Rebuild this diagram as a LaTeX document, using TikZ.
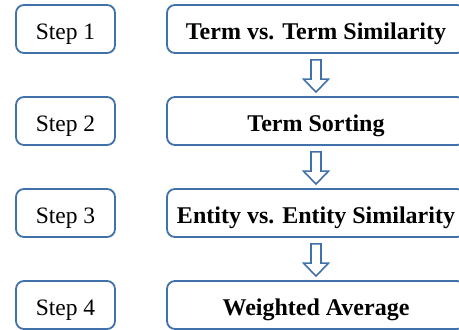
\documentclass[tikz,border=0pt]{standalone}
\usepackage{fontspec}
\setmainfont{Liberation Serif}
\usetikzlibrary{calc}
\definecolor{edge}{RGB}{65,113,170}
\tikzset{
  box/.style={draw=edge, line width=1.8pt, rounded corners=8pt, fill=white,
    minimum height=48pt, inner sep=0pt, text height=21pt, text depth=0pt},
  stepbox/.style={box, minimum width=99pt, font=\fontsize{23.5}{26}\selectfont},
  taskbox/.style={box, minimum width=298pt, font=\fontsize{24}{26}\selectfont\bfseries},
  flow/.style={draw=edge, line width=1.6pt, fill=white, line join=miter}
}
% y grows downwards in this picture
\newcommand{\downarrowshape}[2]{%
  % block arrow from the bottom of #1 to the top of #2
  \draw[flow] ($(#1.south)+(-5,6)$) -- ($(#1.south)+(5,6)$) -- ($(#2.north)+(5,-17)$)
    -- ($(#2.north)+(12.5,-17)$) -- ($(#2.north)+(0,-4)$) -- ($(#2.north)+(-12.5,-17)$)
    -- ($(#2.north)+(-5,-17)$) -- cycle;}
\begin{document}
\begin{tikzpicture}[x=1pt,y=-1pt]
\clip (0,0) rectangle (459,330);
\useasboundingbox (0,0) rectangle (459,330);
\foreach \i/\t in {1/Term vs. Term Similarity,2/Term Sorting,3/Entity vs. Entity Similarity,4/Weighted Average}{
  \node[stepbox] (s\i) at (65.5,{29+92*(\i-1)}) {Step \i};
  \node[taskbox] (r\i) at (316,{29+92*(\i-1)}) {\t};
}
\downarrowshape{r1}{r2}
\downarrowshape{r2}{r3}
\downarrowshape{r3}{r4}
\end{tikzpicture}
\end{document}
